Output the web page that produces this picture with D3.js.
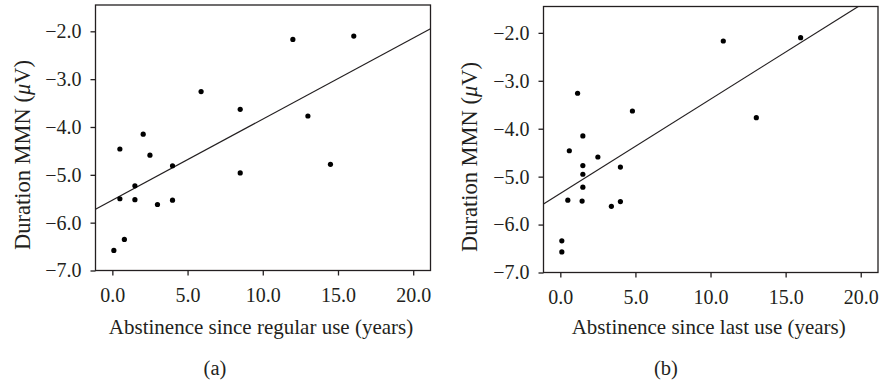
<!DOCTYPE html>
<meta charset="utf-8">
<script src="https://d3js.org/d3.v7.min.js"></script>
<style>
   body {
      background-color: white;
      margin: 0;
      padding: 0;
   }
   svg text {
      font-family: "Liberation Serif", "DejaVu Serif", serif;
      fill: #231f20;
   }
</style>
<body>
<svg id="chart" width="879" height="383"></svg>
<script>
   // tick values shared by both panels
   var xTicks = [0, 5, 10, 15, 20];
   var yTicks = [-2, -3, -4, -5, -6, -7];

   // (a) abstinence since regular use
   var regularYears = [0.5, 2.05, 2.5, 4.0, 5.9, 8.5, 8.5, 12.0, 13.0, 14.5, 16.05, 1.5, 0.5, 1.5, 3.0, 4.0, 0.1, 0.8];
   var regularMMN = [-4.46, -4.15, -4.59, -4.81, -3.26, -3.63, -4.96, -2.17, -3.77, -4.78, -2.10, -5.23, -5.50, -5.52, -5.62, -5.53, -6.58, -6.35];
   var regularFit = [-5.53, 0.1694]; // intercept, slope

   // (b) abstinence since last use
   var lastYears = [1.15, 1.5, 0.6, 2.5, 1.5, 1.5, 1.5, 4.0, 4.8, 10.85, 13.05, 16.0, 0.5, 1.45, 3.4, 4.0, 0.1, 0.1];
   var lastMMN = [-3.26, -4.15, -4.46, -4.59, -4.77, -4.95, -5.22, -4.80, -3.63, -2.17, -3.77, -2.10, -5.49, -5.51, -5.62, -5.52, -6.34, -6.57];
   var lastFit = [-5.35, 0.1966];

   var panels = [
      { id: "a", left: 95.5, top: 5, right: 430.5, bottom: 270.5, xs: regularYears, ys: regularMMN, fit: regularFit,
        xTitle: "Abstinence since regular use (years)", labelX: 215, yTitleX: 30, yTitleY: 155 },
      { id: "b", left: 543.5, top: 6.5, right: 878, bottom: 272.5, xs: lastYears, ys: lastMMN, fit: lastFit,
        xTitle: "Abstinence since last use (years)", labelX: 666, yTitleX: 477, yTitleY: 157 }
   ];

   var svg = d3.select("#chart");
   var fmt = d3.format(".1f");
   var ink = "#231f20";

   panels.forEach(function (p) {
      var x = d3.scaleLinear().domain([-1.12, 21.15]).range([p.left, p.right]);
      var y = d3.scaleLinear().domain([-7, -1.45]).range([p.bottom, p.top]);

      var g = svg.append("g");

      g.append("clipPath").attr("id", "clip-" + p.id)
         .append("rect")
         .attr("x", p.left).attr("y", p.top)
         .attr("width", p.right - p.left).attr("height", p.bottom - p.top);

      // frame
      g.append("rect")
         .attr("x", p.left).attr("y", p.top)
         .attr("width", p.right - p.left).attr("height", p.bottom - p.top)
         .attr("fill", "none")
         .attr("stroke", ink)
         .attr("stroke-width", 1.3);

      var yAxis = g.append("g")
         .attr("transform", "translate(" + p.left + ",0)")
         .call(d3.axisLeft(y).tickValues(yTicks).tickFormat(fmt).tickSize(5).tickPadding(9));

      var xAxis = g.append("g")
         .attr("transform", "translate(0," + p.bottom + ")")
         .call(d3.axisBottom(x).tickValues(xTicks).tickFormat(fmt).tickSize(5).tickPadding(12));

      [xAxis, yAxis].forEach(function (ax) {
         ax.select(".domain").remove();
         ax.selectAll(".tick line").attr("stroke", ink).attr("stroke-width", 1.3);
         ax.selectAll(".tick text")
            .attr("fill", ink)
            .style("font-family", "Liberation Serif")
            .style("font-size", "20px");
      });

      // regression line
      var x0 = x.domain()[0], x1 = x.domain()[1];
      g.append("line")
         .attr("clip-path", "url(#clip-" + p.id + ")")
         .attr("x1", x(x0)).attr("y1", y(p.fit[0] + p.fit[1] * x0))
         .attr("x2", x(x1)).attr("y2", y(p.fit[0] + p.fit[1] * x1))
         .attr("stroke", ink)
         .attr("stroke-width", 1.2);

      // points
      g.selectAll("circle")
         .data(p.xs)
         .enter()
         .append("circle")
         .attr("cx", function (d) { return x(d) })
         .attr("cy", function (d, i) { return y(p.ys[i]) })
         .attr("r", 2.6)
         .attr("fill", "#000");

      // axis titles
      g.append("text")
         .attr("x", (p.left + p.right) / 2 - 2)
         .attr("y", 334)
         .attr("text-anchor", "middle")
         .style("font-size", "21px")
         .text(p.xTitle);

      var yt = g.append("text")
         .attr("transform", "translate(" + p.yTitleX + "," + p.yTitleY + ") rotate(-90)")
         .attr("text-anchor", "middle")
         .style("font-size", "22.5px");
      yt.append("tspan").text("Duration MMN (");
      yt.append("tspan").style("font-style", "italic").text("\u03bc");
      yt.append("tspan").text("V)");

      g.append("text")
         .attr("x", p.labelX)
         .attr("y", 375)
         .attr("text-anchor", "middle")
         .style("font-size", "20.5px")
         .text("(" + p.id + ")");
   });
</script>
</body>
